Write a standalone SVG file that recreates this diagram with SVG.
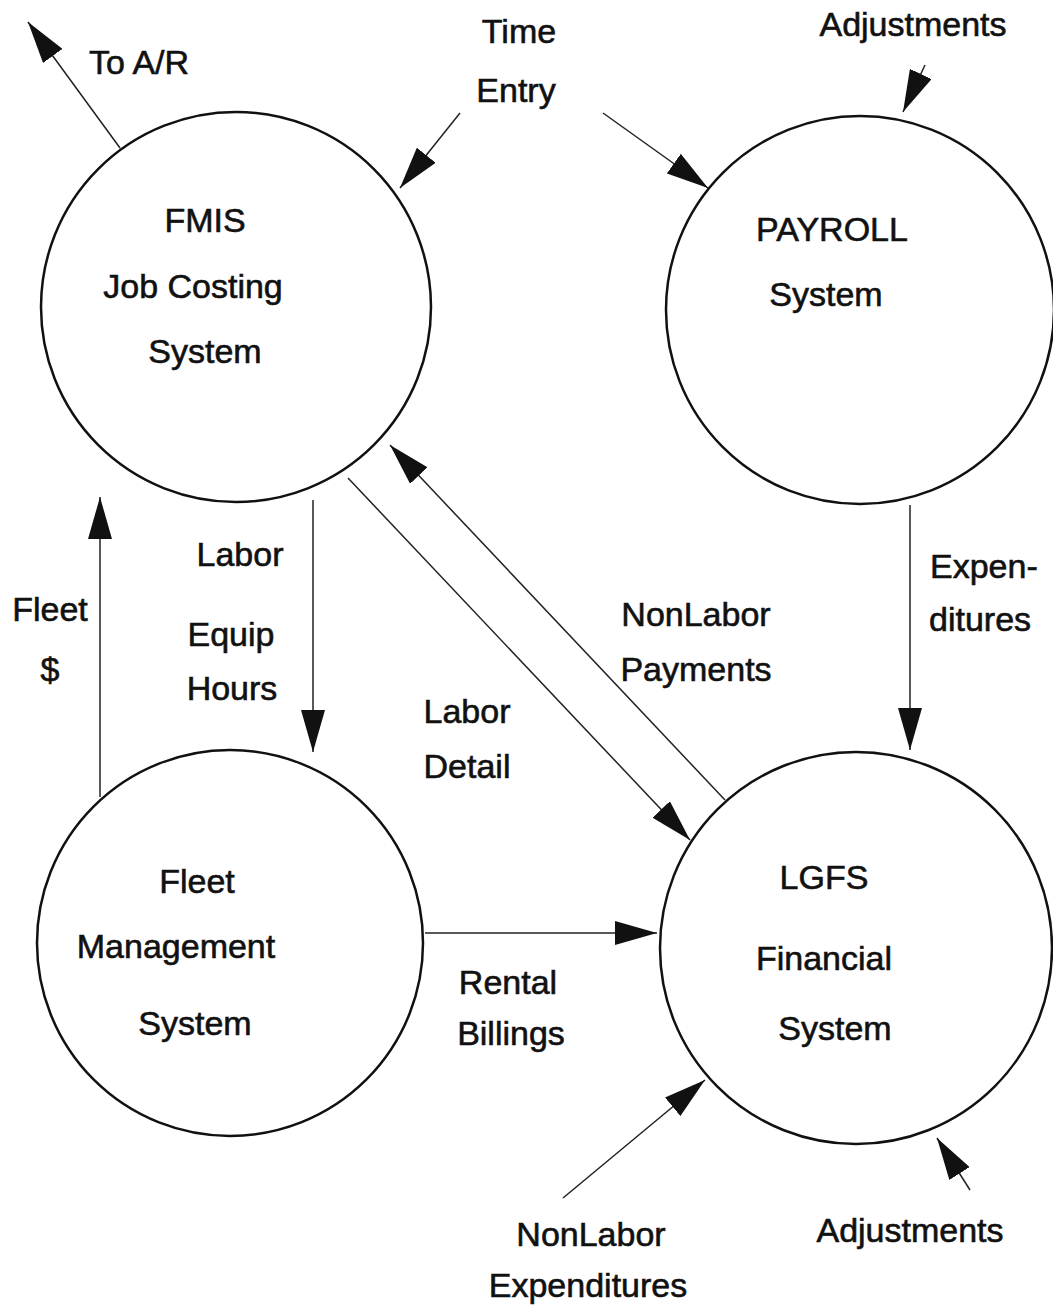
<svg xmlns="http://www.w3.org/2000/svg" width="1053" height="1308" viewBox="0 0 1053 1308">
<style>
.node{fill:none;stroke:#111;stroke-width:2.5}
.t{font-family:"Liberation Sans",Arial,sans-serif;font-size:34px;fill:#111;stroke:#111;stroke-width:0.6;text-anchor:middle}
.l{text-anchor:start}
.c{fill:none;stroke:#222;stroke-width:1.5;marker-end:url(#ah)}
</style>
<defs>
<marker id="ah" viewBox="0 0 42 24" refX="42" refY="12" markerWidth="42" markerHeight="24" markerUnits="userSpaceOnUse" orient="auto">
<path d="M0,0 L42,12 L0,24 z" fill="#111"/>
</marker>
</defs>
<rect width="1053" height="1308" fill="#fff"/>
<g id="connectors">
<line class="c" x1="120" y1="148" x2="28" y2="22"/>
<line class="c" x1="460" y1="113" x2="400" y2="188"/>
<line class="c" x1="603" y1="113" x2="708" y2="188"/>
<line class="c" x1="925" y1="65" x2="903" y2="112"/>
<line class="c" x1="313" y1="500" x2="313" y2="752"/>
<line class="c" x1="100" y1="797" x2="100" y2="497"/>
<line class="c" x1="348" y1="478" x2="690" y2="840"/>
<line class="c" x1="725" y1="800" x2="390" y2="445"/>
<line class="c" x1="910" y1="505" x2="910" y2="750"/>
<line class="c" x1="425" y1="933" x2="657" y2="933"/>
<line class="c" x1="563" y1="1198" x2="705" y2="1080"/>
<line class="c" x1="970" y1="1190" x2="937" y2="1138"/>
</g>
<g id="labels">
<text class="t" x="139" y="74">To A/R</text>
<text class="t" x="519" y="43">Time</text>
<text class="t" x="516" y="102">Entry</text>
<text class="t" x="913" y="36">Adjustments</text>
<text class="t" x="240" y="566">Labor</text>
<text class="t" x="231" y="646">Equip</text>
<text class="t" x="232" y="700">Hours</text>
<text class="t" x="50" y="621">Fleet</text>
<text class="t" x="50" y="681">$</text>
<text class="t" x="696" y="626">NonLabor</text>
<text class="t" x="696" y="681">Payments</text>
<text class="t" x="467" y="723">Labor</text>
<text class="t" x="467" y="778">Detail</text>
<text class="t l" x="930" y="578">Expen-</text>
<text class="t l" x="929" y="631">ditures</text>
<text class="t" x="508" y="994">Rental</text>
<text class="t" x="511" y="1045">Billings</text>
<text class="t" x="591" y="1246">NonLabor</text>
<text class="t" x="588" y="1297">Expenditures</text>
<text class="t" x="910" y="1242">Adjustments</text>
</g>
<g id="fmis">
<circle class="node" cx="236" cy="307" r="195"/>
<text class="t" x="205" y="232">FMIS</text>
<text class="t" x="193" y="298">Job Costing</text>
<text class="t" x="205" y="363">System</text>
</g>
<g id="payroll">
<circle class="node" cx="860" cy="310" r="194"/>
<text class="t" x="832" y="241">PAYROLL</text>
<text class="t" x="826" y="306">System</text>
</g>
<g id="fleet">
<circle class="node" cx="230" cy="943" r="193"/>
<text class="t" x="197" y="893">Fleet</text>
<text class="t" x="176" y="958">Management</text>
<text class="t" x="195" y="1035">System</text>
</g>
<g id="lgfs">
<circle class="node" cx="856" cy="948" r="196"/>
<text class="t" x="824" y="889">LGFS</text>
<text class="t" x="824" y="970">Financial</text>
<text class="t" x="835" y="1040">System</text>
</g>
</svg>
